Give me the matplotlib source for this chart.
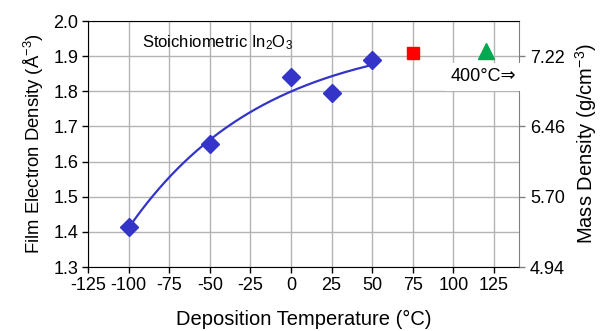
import numpy as np
import matplotlib
matplotlib.use("Agg")
import matplotlib.pyplot as plt

plt.rcParams['font.family'] = ['Liberation Sans', 'DejaVu Sans']
plt.rcParams['axes.unicode_minus'] = False
plt.rcParams['mathtext.fontset'] = 'custom'
plt.rcParams['mathtext.rm'] = 'Liberation Sans'
plt.rcParams['mathtext.it'] = 'Liberation Sans'
plt.rcParams['mathtext.default'] = 'rm'

# measured films
temps = [-100, -50, 0, 25, 50]
density = [1.413, 1.650, 1.842, 1.795, 1.890]

# reference points
stoich_x, stoich_y = 75, 1.910
hot_x, hot_y = 120, 1.915

mass_ticks = [4.94, 5.70, 6.46, 7.22]

# exponential trend line fitted to the measured films: y = a - b*exp(-c*x)
tx = np.array(temps, dtype=float)
ty = np.array(density)
best = None
for c in np.linspace(0.001, 0.05, 500):
    A = np.column_stack([np.ones_like(tx), -np.exp(-c * tx)])
    coef, res, _, _ = np.linalg.lstsq(A, ty, rcond=None)
    err = np.sum((A @ coef - ty) ** 2)
    if best is None or err < best[0]:
        best = (err, c, coef)
_, c_fit, (a_fit, b_fit) = best
xf = np.linspace(-100, 50, 200)
yf = a_fit - b_fit * np.exp(-c_fit * xf)

fig = plt.figure(figsize=(6.03, 3.31), dpi=100)
ax = fig.add_axes([88 / 603, 1 - 267 / 331, (519 - 88) / 603, (267 - 21) / 331])

blue = '#3434c8'
ax.plot(xf, yf, color=blue, lw=1.6, zorder=3)
ax.plot(temps, density, 'D', color=blue, markersize=9.5, zorder=4)
ax.plot(stoich_x, stoich_y, 's', color='#ff0000', markersize=8, zorder=4)
ax.plot(hot_x, hot_y, '^', color='#00a850', markersize=11, zorder=4)

ax.set_xlim(-125, 140.4)
ax.set_ylim(1.3, 2.0)
ax.set_xticks(np.arange(-125, 126, 25))
ax.set_yticks(np.arange(1.3, 2.01, 0.1))
ax.set_yticklabels([f"{v:.1f}" for v in np.arange(1.3, 2.01, 0.1)])
ax.grid(True, color='#b4b4b4', lw=1)
ax.set_axisbelow(True)
ax.tick_params(labelsize=13, length=4, width=1, color='black', pad=3)

for s in ['left', 'bottom', 'top']:
    ax.spines[s].set_color('black')
ax.spines['right'].set_color('#808080')

ax.set_xlabel('Deposition Temperature (°C)', fontsize=14.5, labelpad=12)
ax.set_ylabel('Film Electron Density (Å$^{-3}$)', fontsize=13.3, labelpad=5)

ax.text(-92, 1.937, 'Stoichiometric In$_2$O$_3$', fontsize=12, va='center', ha='left')
ax.text(118.5, 1.841, '400°C⇒', fontsize=13, va='center', ha='center',
        bbox=dict(facecolor='white', edgecolor='none', pad=4), zorder=5)

ax2 = ax.twinx()
ax2.set_ylim(4.94, 4.94 + 0.7 * 3.8)
ax2.set_yticks(mass_ticks)
ax2.set_yticklabels([f"{v:.2f}" for v in mass_ticks])
ax2.tick_params(labelsize=13, length=4, width=1, color='#808080', pad=4)
for s in ax2.spines.values():
    s.set_visible(False)
ax2.set_ylabel('Mass Density (g/cm$^{-3}$)', fontsize=14.5, labelpad=6)

fig.savefig('out.png', dpi=100)
